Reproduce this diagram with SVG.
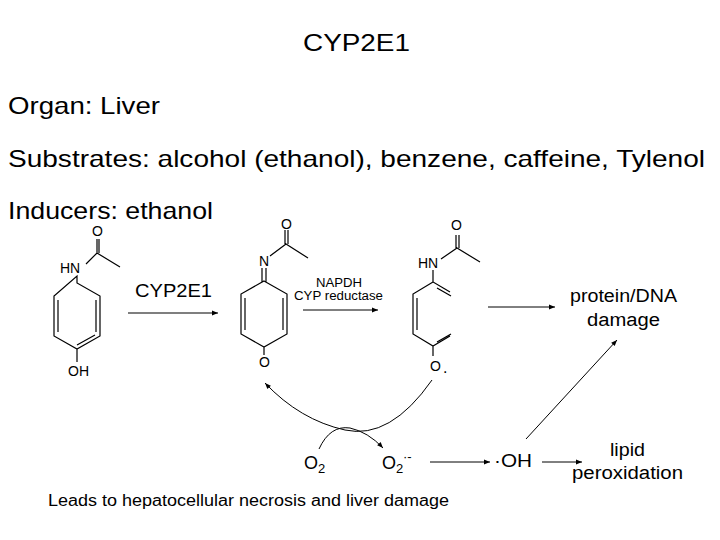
<svg xmlns="http://www.w3.org/2000/svg" width="720" height="540" viewBox="0 0 720 540">
<style>
.t{font-family:"Liberation Sans",Arial,sans-serif;fill:#000}
.b{stroke:#000;stroke-width:1.2;fill:none}
.a{stroke:#000;stroke-width:1;fill:none}
</style>
<defs><marker id="ah" viewBox="0 0 10 10" refX="10" refY="5" markerWidth="8" markerHeight="6" orient="auto" markerUnits="userSpaceOnUse"><path d="M0,1 L10,5 L0,9 z" fill="#000"/></marker></defs>
<rect width="720" height="540" fill="#fff"/>
<g id="title"><text class="t" x="303" y="51" font-size="24" textLength="107" lengthAdjust="spacingAndGlyphs">CYP2E1</text></g>
<g id="info">
<text class="t" x="8" y="114" font-size="24" textLength="152" lengthAdjust="spacingAndGlyphs">Organ: Liver</text>
<text class="t" x="8" y="167" font-size="24" textLength="697" lengthAdjust="spacingAndGlyphs">Substrates: alcohol (ethanol), benzene, caffeine, Tylenol</text>
<text class="t" x="8" y="219" font-size="24" textLength="205" lengthAdjust="spacingAndGlyphs">Inducers: ethanol</text>
</g>
<g id="mol1">
<text class="t" x="60" y="273" font-size="14">HN</text>
<text class="t" x="92" y="236" font-size="14">O</text>
<text class="t" x="68" y="376" font-size="14">OH</text>
<path class="b" d="M86,264 L97,253 L120,267 M97,253 L97,239 M99,253 L99,239 M77,276 L77,283 L100,296 L100,336 L77,349 L54,336 L54,296 Z M77,349 L77,362 M96,300 L96,332 M58,300 L58,332 M77,345 L95,335"/>
</g>
<g id="mol2">
<text class="t" x="259" y="266" font-size="14">N</text>
<text class="t" x="281" y="229" font-size="14">O</text>
<text class="t" x="259" y="367" font-size="14">O</text>
<path class="b" d="M270,256 L286,244 L308,258 M285,244 L285,230 M288,244 L288,230 M262,268 L262,282 M266,268 L266,282 M264,281 L287,294 L287,334 L264,347 L241,334 L241,294 Z M264,347 L264,355 M283,298 L283,330 M245,298 L245,330"/>
</g>
<g id="mol3">
<text class="t" x="418" y="268" font-size="14">HN</text>
<text class="t" x="451" y="230" font-size="14">O</text>
<text class="t" x="430" y="371" font-size="14">O</text>
<text class="t" x="443" y="373" font-size="16">.</text>
<path class="b" d="M441,259 L457,248 L480,262 M456,248 L456,235 M459,248 L459,235 M433,270 L433,282 L450,292 M433,282 L413,294 L413,334 L433,346 L450,336 M433,346 L433,356 M417,298 L417,330 M437,288 L451,296 M437,342 L451,334"/>
</g>
<g id="labels">
<text class="t" x="135" y="297" font-size="18" textLength="77" lengthAdjust="spacingAndGlyphs">CYP2E1</text>
<text class="t" x="316" y="287" font-size="12" textLength="46" lengthAdjust="spacingAndGlyphs">NAPDH</text>
<text class="t" x="294" y="300" font-size="12" textLength="89" lengthAdjust="spacingAndGlyphs">CYP reductase</text>
<text class="t" x="570" y="302" font-size="18" textLength="107" lengthAdjust="spacingAndGlyphs">protein/DNA</text>
<text class="t" x="587" y="326" font-size="18" textLength="73" lengthAdjust="spacingAndGlyphs">damage</text>
<text class="t" x="304" y="469" font-size="18">O</text>
<text class="t" x="318" y="473" font-size="13">2</text>
<text class="t" x="382" y="469" font-size="18">O</text>
<text class="t" x="396" y="473" font-size="13">2</text>
<text class="t" x="403" y="461" font-size="13">·-</text>
<text class="t" x="494" y="467" font-size="18" textLength="38" lengthAdjust="spacingAndGlyphs">·OH</text>
<text class="t" x="610" y="456" font-size="18" textLength="35" lengthAdjust="spacingAndGlyphs">lipid</text>
<text class="t" x="572" y="479" font-size="18" textLength="111" lengthAdjust="spacingAndGlyphs">peroxidation</text>
<text class="t" x="48" y="506" font-size="16" textLength="401" lengthAdjust="spacingAndGlyphs">Leads to hepatocellular necrosis and liver damage</text>
</g>
<g id="connectors">
<path d="M128,313 L218,313" stroke="#555" stroke-width="1.3" fill="none" marker-end="url(#ah)"/>
<path class="a" d="M303,310 L378,310" marker-end="url(#ah)"/>
<path class="a" d="M488,307 L555,307" marker-end="url(#ah)"/>
<path class="a" d="M432,380 Q390,440 345,430 Q300,420 265,383" marker-end="url(#ah)"/>
<path class="a" d="M319,449 Q330,425 350,428 Q368,432 383,448" marker-end="url(#ah)"/>
<path class="a" d="M430,462 L490,462" marker-end="url(#ah)"/>
<path class="a" d="M542,462 L582,462" marker-end="url(#ah)"/>
<path class="a" d="M526,439 L617,340" marker-end="url(#ah)"/>
</g>
</svg>
